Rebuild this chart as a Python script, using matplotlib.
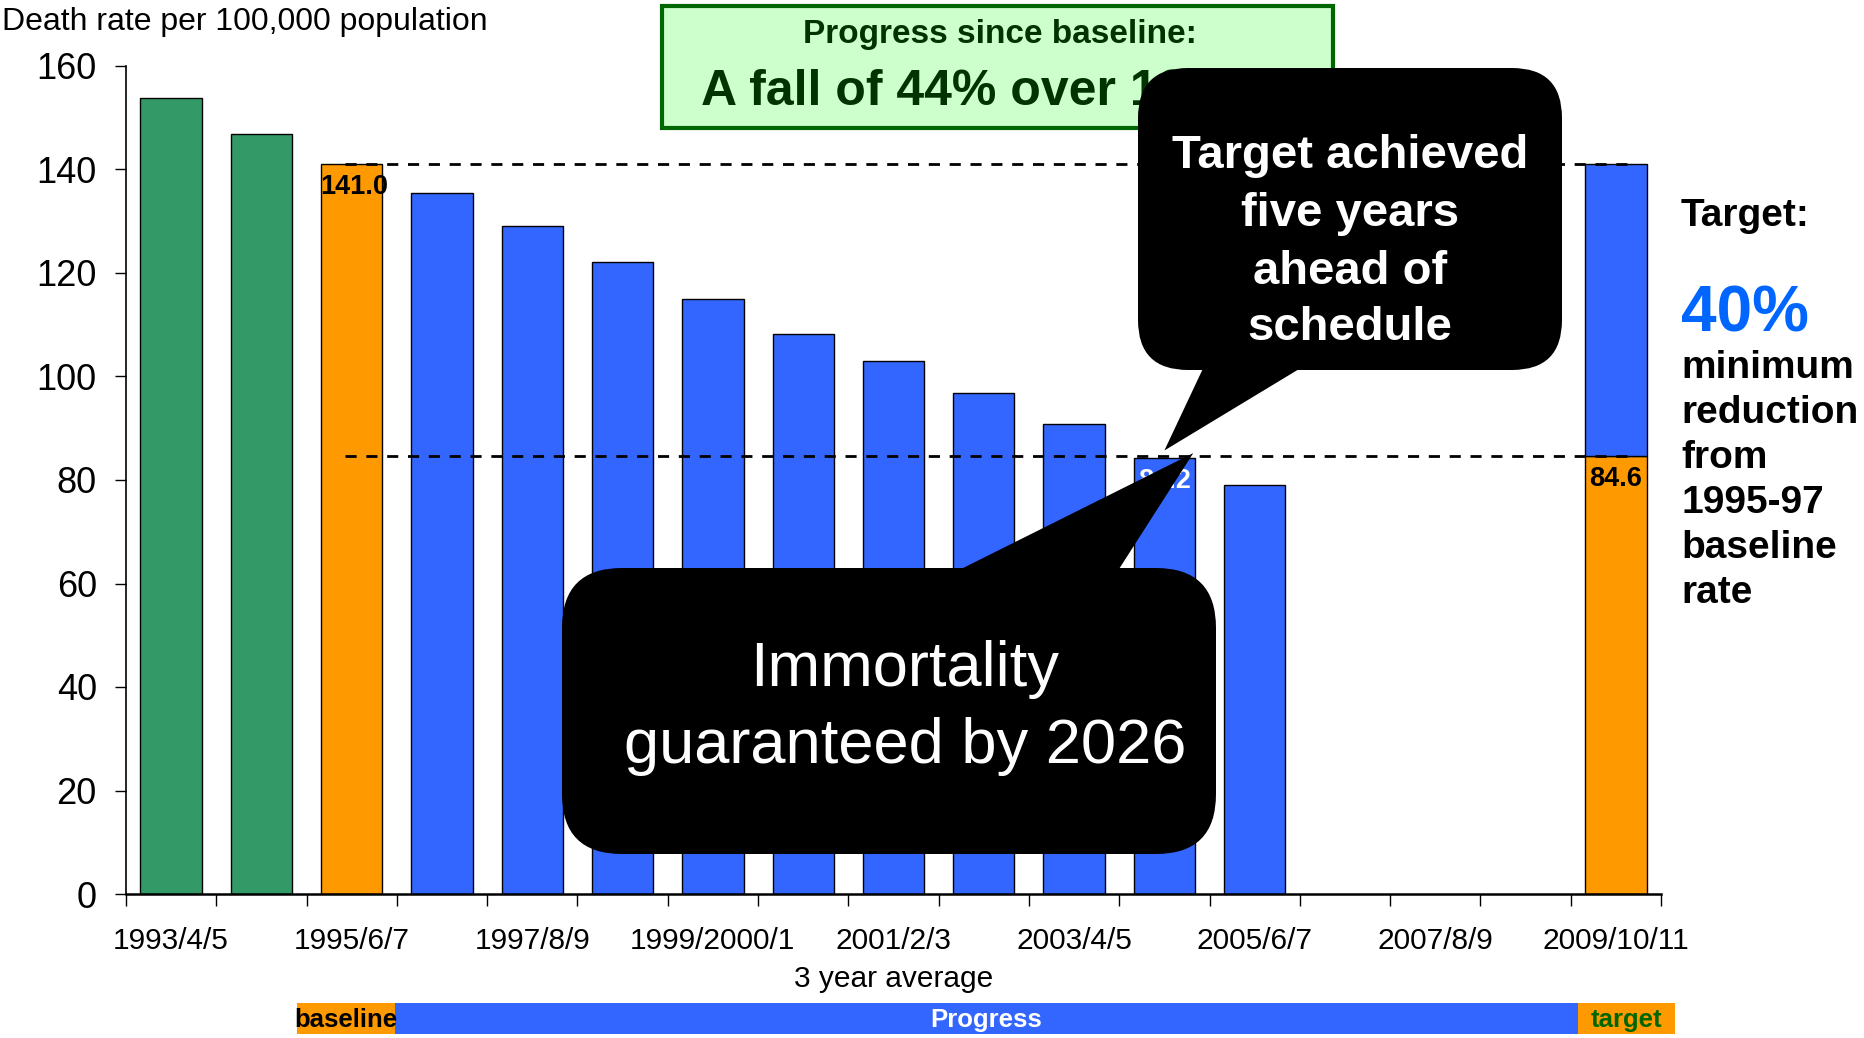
import numpy as np
import matplotlib
matplotlib.use("Agg")
import matplotlib.pyplot as plt
from matplotlib.patches import FancyBboxPatch, Polygon, Rectangle

plt.rcParams["font.family"] = ["Liberation Sans", "DejaVu Sans"]

# --- data ---
periods = ["1993/4/5", "1994/5/6", "1995/6/7", "1996/7/8", "1997/8/9",
           "1998/9/2000", "1999/2000/1", "2000/1/2", "2001/2/3", "2002/3/4",
           "2003/4/5", "2004/5/6", "2005/6/7", "2006/7/8", "2007/8/9",
           "2008/9/10", "2009/10/11"]
rates = [153.8, 146.9, 141.0, 135.4, 129.0, 122.1, 114.9, 108.3, 103.0,
         96.8, 90.8, 84.2, 79.1, np.nan, np.nan, np.nan, np.nan]
groups = ["pre", "pre", "baseline"] + ["progress"] * 14
baseline_rate = 141.0
target_rate = 84.6
target_period = "2009/10/11"
band_labels = ["baseline", "Progress", "target"]

colors = {"pre": "#339966", "baseline": "#FF9900", "progress": "#3366FF"}

W, H = 1864, 1038
fig = plt.figure(figsize=(W / 100, H / 100), dpi=100)
ax = fig.add_axes([126 / W, 1 - 894 / H, 1535 / W, 828 / H])

x = np.arange(len(periods))
bw = 0.68
for i, (r, g) in enumerate(zip(rates, groups)):
    if np.isnan(r):
        continue
    ax.bar(i, r, width=bw, color=colors[g], edgecolor="black", linewidth=1, zorder=2)

t_idx = periods.index(target_period)
ax.bar(t_idx, target_rate, width=bw, color=colors["baseline"], edgecolor="black", linewidth=1, zorder=2)
ax.bar(t_idx, baseline_rate - target_rate, bottom=target_rate, width=bw,
       color=colors["progress"], edgecolor="black", linewidth=1, zorder=2)

b_idx = groups.index("baseline")
rates_arr = np.array(rates)
hit_idx = int(np.where(rates_arr <= target_rate)[0][0])

# reference lines
ax.hlines([baseline_rate, target_rate], b_idx - 0.07, t_idx + 0.14,
          colors="black", linestyles=(0, (4, 3.5)), linewidth=2, zorder=4)

# value labels
lab_kw = dict(textcoords="offset pixels", xytext=(0, -10), ha="center", va="top",
              fontsize=19.5, fontweight="bold", zorder=5)
ax.annotate(f"{baseline_rate:.1f}", (b_idx + 0.03, baseline_rate), color="black", **lab_kw)
ax.annotate(f"{rates[hit_idx]:.1f}", (hit_idx, rates[hit_idx]), color="white", **lab_kw)
ax.annotate(f"{target_rate:.1f}", (t_idx, target_rate), color="black", **lab_kw)

ax.set_xlim(-0.5, len(periods) - 0.5)
ax.set_ylim(0, 160)
ax.set_yticks(range(0, 161, 20))
ax.set_xticks(x[::2])
ax.set_xticklabels(periods[::2])
ax.set_xticks(np.arange(-0.5, len(periods), 1), minor=True)
ax.tick_params(axis="y", labelsize=26, length=8, width=1, pad=13)
ax.tick_params(axis="x", which="major", length=0, pad=24, labelsize=21.5)
ax.tick_params(axis="x", which="minor", length=8.5, width=1)
ax.spines["top"].set_visible(False)
ax.spines["right"].set_visible(False)
ax.spines["bottom"].set_linewidth(1.8)
ax.spines["left"].set_linewidth(1.2)
ax.set_xlabel("3 year average", fontsize=21.5, labelpad=7)


def to_px(xv, yv):
    dx, dy = ax.transData.transform((xv, yv))
    return dx, H - dy


# overlay in pixel coordinates for the annotations
ov = fig.add_axes([0, 0, 1, 1], zorder=5)
ov.set_xlim(0, W)
ov.set_ylim(H, 0)
ov.set_axis_off()

ov.text(2, 22, "Death rate per 100,000 population", fontsize=23, ha="left", va="center")

# progress box
ov.add_patch(Rectangle((662, 6), 671, 122, facecolor="#CCFFCC", edgecolor="#006600",
                       linewidth=3, zorder=1))
ov.text(1000, 43, "Progress since baseline:", fontsize=24, fontweight="bold",
        color="#003300", ha="center", va="baseline", zorder=2)
ov.text(701, 105, "A fall of 44% over 10 years", fontsize=36, fontweight="bold",
        color="#003300", ha="left", va="baseline", zorder=2)

# upper callout
tip1 = to_px(hit_idx, rates[hit_idx] + 1.5)
ov.add_patch(FancyBboxPatch((1138, 68), 424, 302, boxstyle="round,pad=0,rounding_size=50",
                            facecolor="black", edgecolor="none", zorder=3))
ov.add_patch(Polygon([(1207, 360), (1314, 360), tip1], closed=True,
                     facecolor="black", edgecolor="none", zorder=3))
for txt, yb in zip(["Target achieved", "five years", "ahead of", "schedule"],
                   [168, 226, 284, 340]):
    ov.text(1350, yb, txt, fontsize=34, fontweight="bold", color="white",
            ha="center", va="baseline", zorder=4)

# lower callout
tip2 = to_px(hit_idx + 0.32, rates[hit_idx] + 1)
ov.add_patch(FancyBboxPatch((562, 568), 654, 286, boxstyle="round,pad=0,rounding_size=60",
                            facecolor="black", edgecolor="none", zorder=3))
ov.add_patch(Polygon([(939, 580), (1112, 580), tip2], closed=True,
                     facecolor="black", edgecolor="none", zorder=3))
for txt, yb in zip(["Immortality", "guaranteed by 2026"], [686, 763]):
    ov.text(905, yb, txt, fontsize=45.5, color="white", ha="center", va="baseline", zorder=4)

# right side text
ov.text(1681, 226, "Target:", fontsize=28, fontweight="bold", ha="left", va="baseline")
ov.text(1681, 331, "40%", fontsize=46, fontweight="bold", color="#0066FF", ha="left", va="baseline")
for k, txt in enumerate(["minimum", "reduction", "from", "1995-97", "baseline", "rate"]):
    ov.text(1681, 378 + 45 * k, txt, fontsize=28, fontweight="bold", ha="left", va="baseline")

# bottom band
band_x = [297, 395, 1578, 1675]
band_col = ["#FF9900", "#3366FF", "#FF9900"]
band_txt = ["black", "white", "#006600"]
for k, lab in enumerate(band_labels):
    ov.add_patch(Rectangle((band_x[k], 1003), band_x[k + 1] - band_x[k], 31,
                           facecolor=band_col[k], edgecolor="none", zorder=1))
    ov.text((band_x[k] + band_x[k + 1]) / 2, 1020, lab, fontsize=18.5, fontweight="bold",
            color=band_txt[k], ha="center", va="center", zorder=2)

fig.savefig("out.png", dpi=100)
